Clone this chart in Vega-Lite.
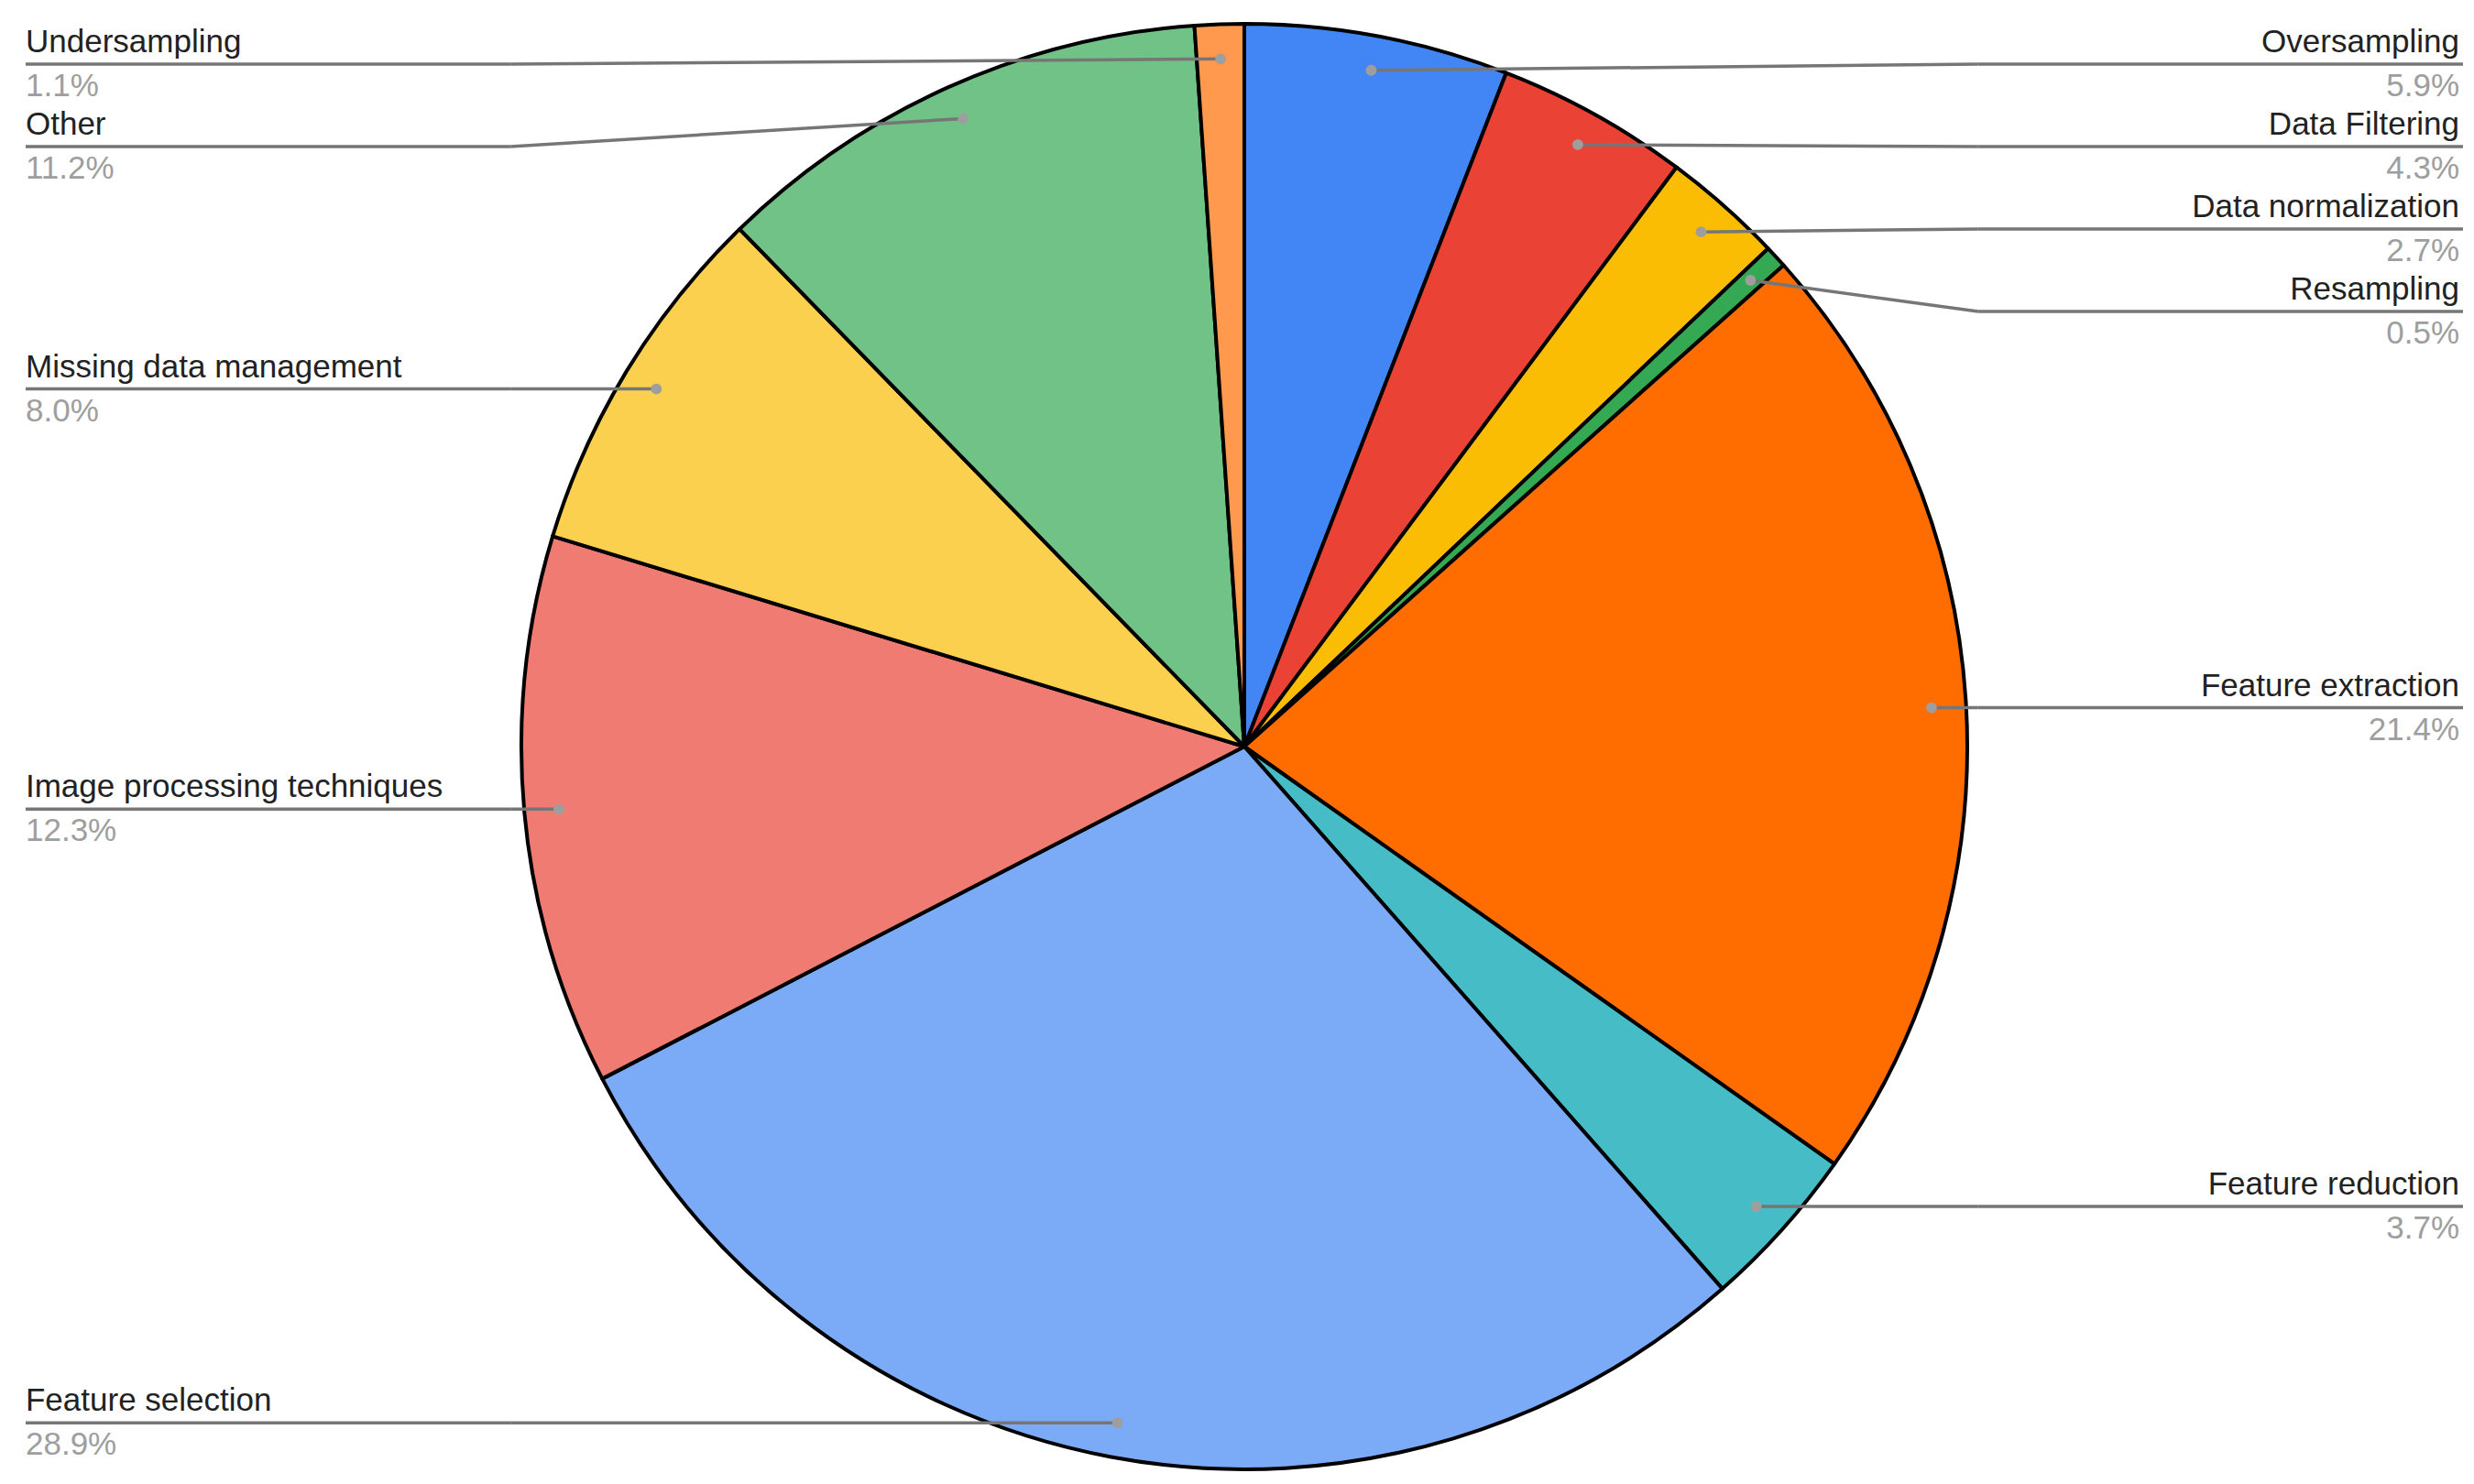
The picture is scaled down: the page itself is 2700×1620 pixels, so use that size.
{
  "$schema": "https://vega.github.io/schema/vega-lite/v6.json",
  "width": 2700,
  "height": 1620,
  "padding": 0,
  "autosize": {"type": "none"},
  "background": "white",
  "config": {"view": {"stroke": null}, "font": "Liberation Sans"},
  "data": {
    "values": [
      {"order": 1, "name": "Oversampling", "value": 5.9},
      {"order": 2, "name": "Data Filtering", "value": 4.3},
      {"order": 3, "name": "Data normalization", "value": 2.7},
      {"order": 4, "name": "Resampling", "value": 0.5},
      {"order": 5, "name": "Feature extraction", "value": 21.4},
      {"order": 6, "name": "Feature reduction", "value": 3.7},
      {"order": 7, "name": "Feature selection", "value": 28.9},
      {"order": 8, "name": "Image processing techniques", "value": 12.3},
      {"order": 9, "name": "Missing data management", "value": 8.0},
      {"order": 10, "name": "Other", "value": 11.2},
      {"order": 11, "name": "Undersampling", "value": 1.1}
    ]
  },
  "transform": [
    {"window": [{"op": "sum", "field": "value", "as": "cum"}], "sort": [{"field": "order"}], "frame": [null, 0]},
    {"joinaggregate": [{"op": "sum", "field": "value", "as": "total"}]},
    {"calculate": "2*PI*(datum.cum-datum.value)/datum.total", "as": "a0"},
    {"calculate": "2*PI*datum.cum/datum.total", "as": "a1"},
    {"calculate": "(datum.a0+datum.a1)/2", "as": "mid"},
    {"calculate": "0.952*sin(datum.mid)", "as": "dx"},
    {"calculate": "-0.952*cos(datum.mid)", "as": "dy"},
    {"calculate": "datum.dx >= 0 ? 1 : -1", "as": "side"},
    {"window": [{"op": "rank", "as": "rk"}], "groupby": ["side"], "sort": [{"field": "dy"}]},
    {"calculate": "-0.9442+0.1141*(datum.rk-1)", "as": "stackY"},
    {"calculate": "datum.dy > datum.stackY + 0.057 ? datum.dy : datum.stackY", "as": "ly"},
    {"calculate": "datum.side*max(abs(datum.dx),1.015)", "as": "bx"},
    {"calculate": "datum.side*1.6857", "as": "ex"},
    {"calculate": "format(datum.value,'.1f')+'%'", "as": "pct"}
  ],
  "layer": [
    {
      "mark": {"type": "arc", "radius": 789, "stroke": "#000000", "strokeWidth": 4, "strokeJoin": "round"},
      "encoding": {
        "theta": {"field": "a0", "type": "quantitative", "scale": null},
        "theta2": {"field": "a1"},
        "x": {"datum": 0, "type": "quantitative", "scale": {"domain": [-1.72117, 1.70089], "nice": false, "zero": false}, "axis": null},
        "y": {"datum": 0, "type": "quantitative", "scale": {"domain": [-1.03295, 1.02028], "nice": false, "zero": false, "reverse": true}, "axis": null},
        "color": {
          "field": "name",
          "type": "nominal",
          "legend": null,
          "scale": {
            "domain": ["Oversampling", "Data Filtering", "Data normalization", "Resampling", "Feature extraction", "Feature reduction", "Feature selection", "Image processing techniques", "Missing data management", "Other", "Undersampling"],
            "range": ["#4285F4", "#EA4335", "#FBBC04", "#34A853", "#FF6D01", "#46BDC6", "#7BAAF7", "#F07B72", "#FCD04F", "#71C287", "#FF994D"]
          }
        }
      }
    },
    {
      "mark": {"type": "rule", "color": "#767676", "strokeWidth": 3.5},
      "encoding": {
        "x": {"field": "dx", "type": "quantitative", "scale": {"domain": [-1.72117, 1.70089], "nice": false, "zero": false}, "axis": null},
        "y": {"field": "dy", "type": "quantitative", "scale": {"domain": [-1.03295, 1.02028], "nice": false, "zero": false, "reverse": true}, "axis": null},
        "x2": {"field": "bx"},
        "y2": {"field": "ly"}
      }
    },
    {
      "mark": {"type": "rule", "color": "#767676", "strokeWidth": 3.5},
      "encoding": {
        "x": {"field": "bx", "type": "quantitative", "scale": {"domain": [-1.72117, 1.70089], "nice": false, "zero": false}, "axis": null},
        "y": {"field": "ly", "type": "quantitative", "scale": {"domain": [-1.03295, 1.02028], "nice": false, "zero": false, "reverse": true}, "axis": null},
        "x2": {"field": "ex"},
        "y2": {"field": "ly"}
      }
    },
    {
      "mark": {"type": "point", "filled": true, "color": "#9e9e9e", "opacity": 1, "size": 140, "shape": "circle"},
      "encoding": {
        "x": {"field": "dx", "type": "quantitative", "scale": {"domain": [-1.72117, 1.70089], "nice": false, "zero": false}, "axis": null},
        "y": {"field": "dy", "type": "quantitative", "scale": {"domain": [-1.03295, 1.02028], "nice": false, "zero": false, "reverse": true}, "axis": null}
      }
    },
    {
      "transform": [{"filter": "datum.side < 0"}],
      "mark": {"type": "text", "align": "left", "baseline": "alphabetic", "dy": -13, "fontSize": 35, "color": "#222222", "font": "Liberation Sans"},
      "encoding": {
        "x": {"field": "ex", "type": "quantitative", "scale": {"domain": [-1.72117, 1.70089], "nice": false, "zero": false}, "axis": null},
        "y": {"field": "ly", "type": "quantitative", "scale": {"domain": [-1.03295, 1.02028], "nice": false, "zero": false, "reverse": true}, "axis": null},
        "text": {"field": "name"}
      }
    },
    {
      "transform": [{"filter": "datum.side < 0"}],
      "mark": {"type": "text", "align": "left", "baseline": "alphabetic", "dy": 35, "fontSize": 35, "color": "#9e9e9e", "font": "Liberation Sans"},
      "encoding": {
        "x": {"field": "ex", "type": "quantitative", "scale": {"domain": [-1.72117, 1.70089], "nice": false, "zero": false}, "axis": null},
        "y": {"field": "ly", "type": "quantitative", "scale": {"domain": [-1.03295, 1.02028], "nice": false, "zero": false, "reverse": true}, "axis": null},
        "text": {"field": "pct"}
      }
    },
    {
      "transform": [{"filter": "datum.side > 0"}],
      "mark": {"type": "text", "align": "right", "baseline": "alphabetic", "dx": -4, "dy": -13, "fontSize": 35, "color": "#222222", "font": "Liberation Sans"},
      "encoding": {
        "x": {"field": "ex", "type": "quantitative", "scale": {"domain": [-1.72117, 1.70089], "nice": false, "zero": false}, "axis": null},
        "y": {"field": "ly", "type": "quantitative", "scale": {"domain": [-1.03295, 1.02028], "nice": false, "zero": false, "reverse": true}, "axis": null},
        "text": {"field": "name"}
      }
    },
    {
      "transform": [{"filter": "datum.side > 0"}],
      "mark": {"type": "text", "align": "right", "baseline": "alphabetic", "dx": -4, "dy": 35, "fontSize": 35, "color": "#9e9e9e", "font": "Liberation Sans"},
      "encoding": {
        "x": {"field": "ex", "type": "quantitative", "scale": {"domain": [-1.72117, 1.70089], "nice": false, "zero": false}, "axis": null},
        "y": {"field": "ly", "type": "quantitative", "scale": {"domain": [-1.03295, 1.02028], "nice": false, "zero": false, "reverse": true}, "axis": null},
        "text": {"field": "pct"}
      }
    }
  ]
}
